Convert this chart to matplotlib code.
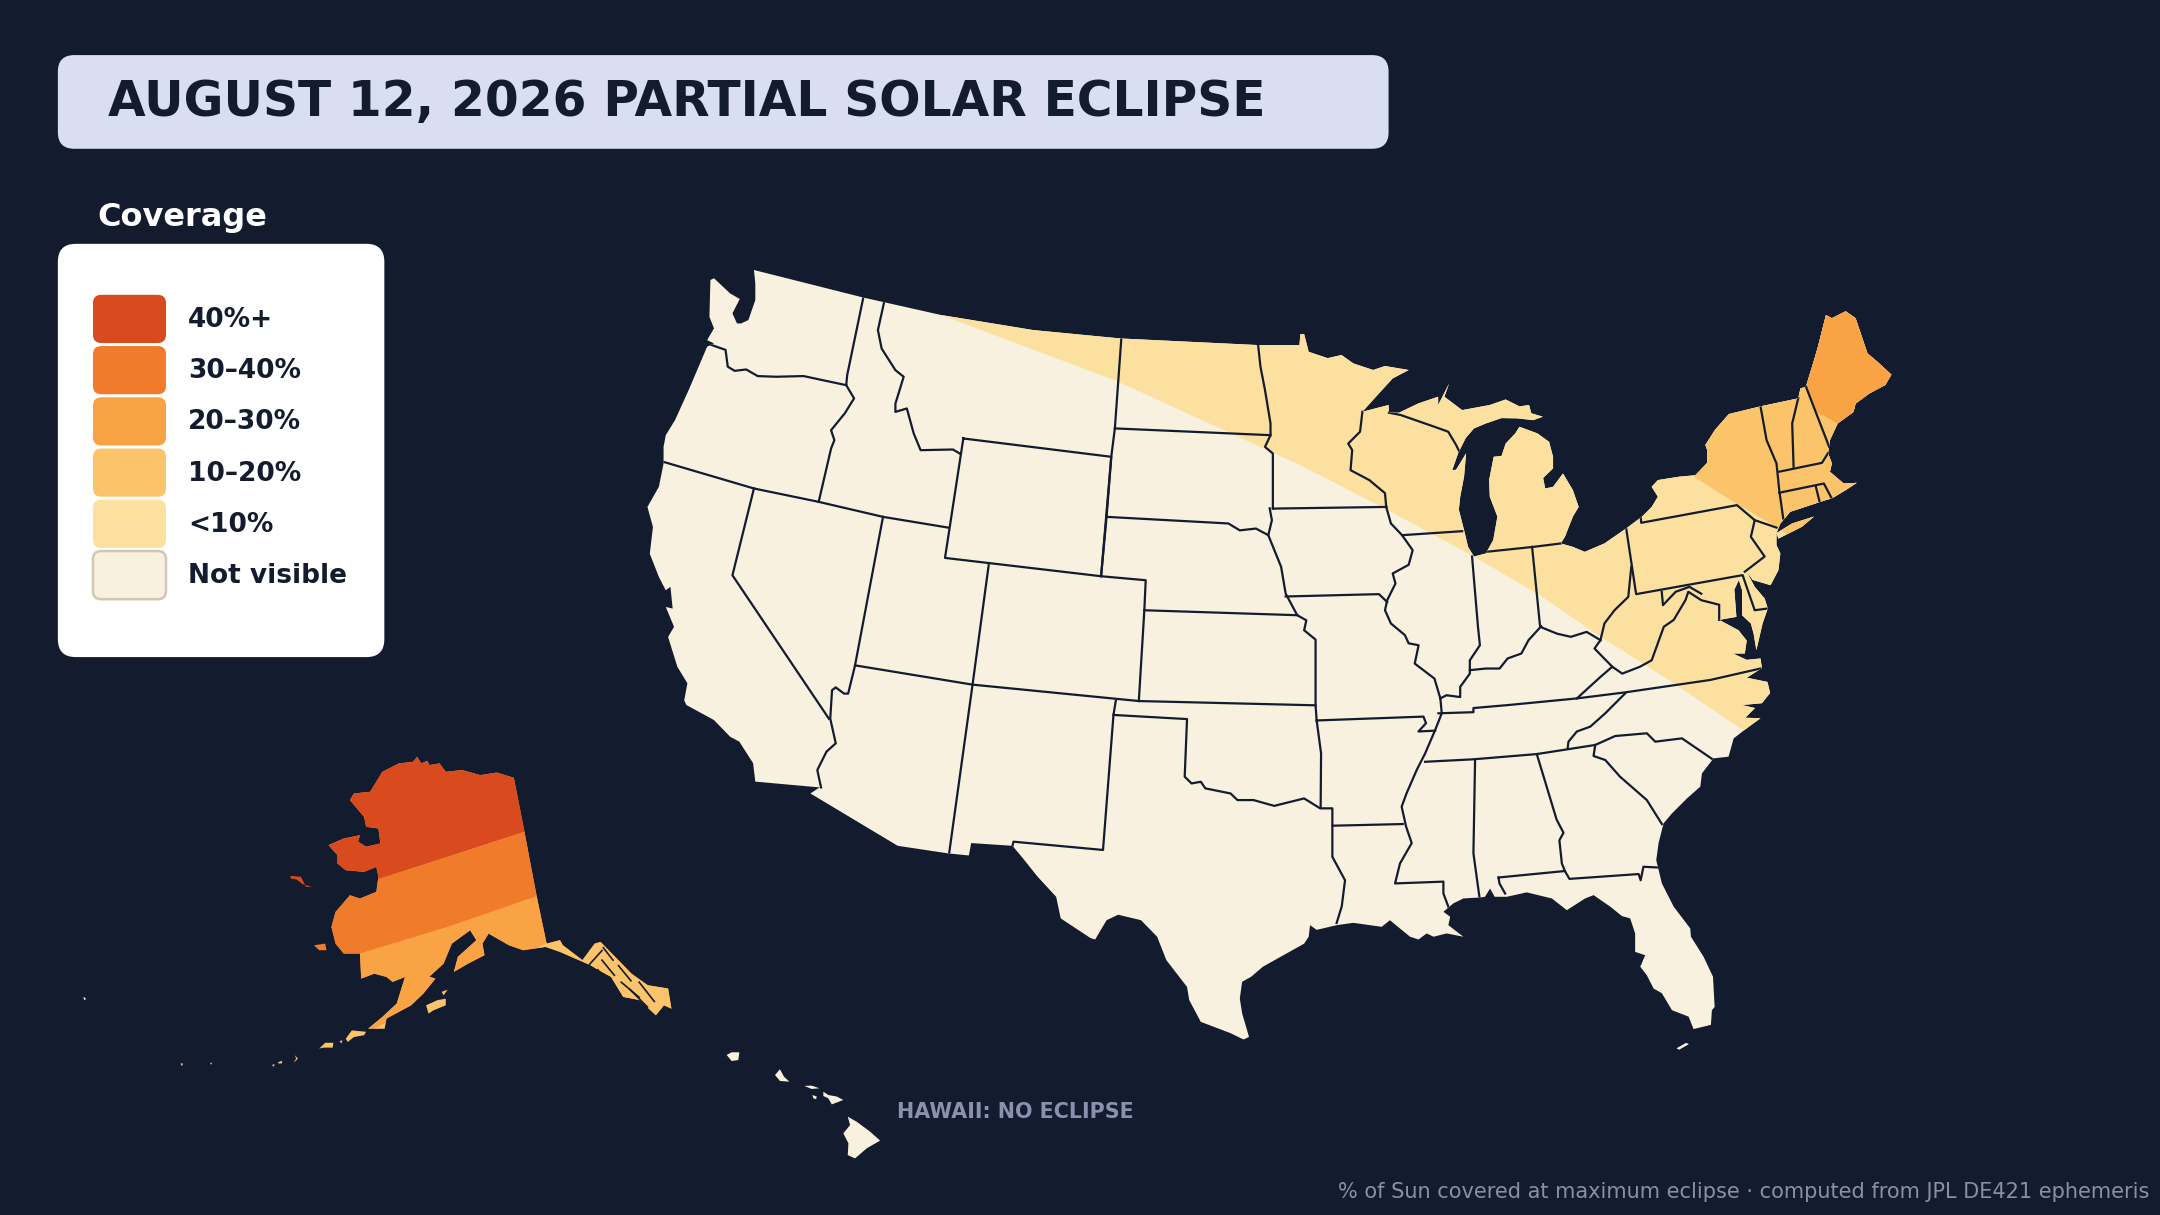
import matplotlib
matplotlib.use("Agg")
import matplotlib.pyplot as plt
from matplotlib.patches import FancyBboxPatch, Polygon, PathPatch
from matplotlib.path import Path

# colours
BG = "#131C2E"
CREAM = "#F8F1DF"
C40 = "#DA4A1F"
C30 = "#EF7B2B"
C20 = "#F9A345"
C10 = "#FBC46A"
C00 = "#FCE0A0"

LEGEND_LABELS = ["40%+", "30–40%", "20–30%", "10–20%", "<10%", "Not visible"]
LEGEND_COLORS = [C40, C30, C20, C10, C00, CREAM]

CONUS = [
    (547.3, 196), (626.7, 216), (683.3, 228.7), (750, 239.6), (813.3, 245.7), (913.3, 250.5),
    (943.3, 250.5), (944, 242.5), (946.7, 242.5), (950, 255.4), (963.8, 260), (973.8, 257.7),
    (982.4, 263.8), (996.8, 268.6), (1005.4, 265.7), (1022.6, 268.6), (1011, 274.7), (1001, 285.6),
    (989, 298.9), (1008, 294), (1008.3, 299.6), (1015.5, 299.6), (1029.8, 292.8), (1044, 288),
    (1044, 294), (1052, 278.3), (1048.5, 288), (1061.4, 297.7), (1081.5, 294), (1093, 290),
    (1103, 295), (1110, 294), (1111.6, 300), (1120, 302.5), (1113, 305), (1101.6, 303.7),
    (1090, 303.5), (1078.6, 307.4), (1070, 311), (1064, 318), (1058.5, 329), (1054.2, 341.3),
    (1057, 341), (1064.3, 329), (1062.8, 346), (1060, 360.6), (1059, 370), (1062.8, 384.8),
    (1065.7, 397), (1070, 404), (1078.6, 401.8), (1084, 392), (1087, 375), (1081.5, 360.6),
    (1081, 348.5), (1084.3, 331.6), (1090, 331), (1093, 322), (1100, 314.6), (1103, 309.8),
    (1116, 314.6), (1124.5, 320.7), (1127.4, 331.6), (1127.4, 340), (1120.2, 347), (1121.7, 354.6),
    (1127.4, 353.4), (1134.6, 343.7), (1141.8, 355.8), (1146, 368), (1141.8, 375), (1136, 389.7),
    (1133, 394.5), (1141.8, 397), (1150.4, 400.6), (1164.7, 394.5), (1180.5, 383.6), (1192, 375),
    (1199, 368), (1203.5, 360.6), (1199, 353.4), (1203.5, 348.5), (1219.2, 346), (1230.7, 345),
    (1239.3, 336), (1239.3, 326.7), (1238, 323), (1245, 312), (1255, 300.6), (1278, 295),
    (1305.4, 289.2), (1307, 282), (1311, 280.7), (1317, 261), (1319.7, 251.7), (1325.5, 228.7),
    (1329.8, 231), (1339.8, 226), (1347, 231), (1355.6, 256.5), (1362.8, 262.6), (1373, 272),
    (1368.5, 279.5), (1357, 285.6), (1347, 293), (1345.5, 299), (1334, 307.4), (1328.4, 319.5),
    (1327, 329), (1329.8, 336.4), (1328.4, 342.5), (1338.4, 351), (1347.8, 350.5), (1339.8, 355.8),
    (1329.8, 361.8), (1325.4, 363), (1299.6, 371.5), (1292.4, 380), (1289.6, 387), (1289.6, 395.7),
    (1292.4, 401.8), (1291, 413.9), (1285.3, 424.8), (1272.3, 421), (1268, 415), (1273.8, 426),
    (1281, 434.5), (1283.3, 441.7), (1279.5, 452.6), (1275, 472), (1273, 460), (1271, 452.6),
    (1264.6, 446.6), (1264.6, 428.4), (1262.3, 421), (1259, 428), (1260.5, 447.8), (1248, 450),
    (1262, 457.5), (1268, 465), (1266.6, 474.4), (1258, 474.4), (1268, 479), (1278, 478),
    (1279, 485), (1268, 492), (1283, 495), (1285, 503), (1279, 510.5), (1264.5, 511.8),
    (1274, 514), (1267, 521), (1278, 521.4), (1268, 528.7), (1258.5, 536), (1254.8, 549.3),
    (1243.9, 550.5), (1235.5, 561.4), (1234.3, 571), (1224.6, 579.6), (1213.7, 590.5), (1207.6, 597.7),
    (1204, 612), (1202.3, 624.4), (1206.4, 641.3), (1215, 658.2), (1227, 674), (1227.5, 680),
    (1236.7, 694.6), (1243.5, 709), (1244.7, 731), (1242.7, 733.3), (1242, 744), (1229.4, 747),
    (1225.8, 738), (1213.7, 733.3), (1206.4, 721), (1200.4, 717.6), (1195.5, 708), (1190.7, 701.8),
    (1194.3, 693.4), (1187, 691), (1187, 677.6), (1183.4, 666.7), (1177.4, 665), (1169, 658.2),
    (1156.8, 649.8), (1150.7, 652.2), (1137.4, 660.7), (1126.5, 652.2), (1108.3, 647.8), (1093.8, 651),
    (1085, 651), (1081.7, 645), (1078, 651), (1074.5, 651.5), (1062.3, 652.2), (1055, 655.8),
    (1047.8, 661.9), (1052.7, 665.5), (1051.4, 671.6), (1062.3, 680), (1050.2, 677.6), (1040.6, 680),
    (1035.7, 677.6), (1029.7, 682), (1023.6, 680), (1009, 668), (1003, 672.8), (982.4, 669.9),
    (970.3, 671.6), (955.8, 675), (951, 671.6), (950, 680), (946.7, 685), (916.7, 701.8),
    (908.3, 709), (901.7, 712.7), (900, 724.8), (901.7, 735.7), (906.7, 752.7), (902.7, 754.6),
    (893.3, 750), (871.7, 741.8), (863.3, 726), (861.7, 716.4), (846.7, 697), (840, 680),
    (828.3, 668), (811.7, 664), (803.3, 668), (795, 682), (791.7, 681), (770, 666.7),
    (766.7, 651), (753.3, 636.5), (741.7, 622), (735, 614), (705, 612), (703.3, 621),
    (688.3, 619.5), (651.7, 614), (588.3, 576), (595, 571.6), (548.3, 567.4), (546.7, 554),
    (536.7, 538.4), (530, 534.8), (518.3, 522.7), (498.3, 511.8), (496.7, 508.4), (499, 496),
    (491.7, 484), (485, 462.4), (489.3, 455), (483.3, 440.6), (488.3, 441.8), (486.7, 426),
    (483.3, 428.5), (478.3, 418.8), (471.7, 402), (474, 382.5), (470, 368), (478.3, 353.4),
    (481.7, 336.5), (481.7, 324.4), (483.3, 315.9), (490, 305), (500, 283), (513.3, 251.7),
    (518.3, 249.3), (513.3, 246.9), (518.3, 238.4), (515, 230), (515.7, 203.3), (518.3, 202),
    (530, 213), (537, 217), (531.7, 227.5), (535, 234.8), (538, 234.8), (543.3, 232.3),
    (548.3, 217.8), (548.3, 205.7),
]
LONG_ISLAND = [(1316.8, 375), (1308, 382.4), (1291, 391), (1289.6, 387), (1301, 380)]
KEY_WEST = [(1217, 761), (1224, 757), (1226, 758), (1219, 762)]

ALASKA = [
    (302.8, 549.4), (305.8, 554.2), (310.2, 552.3), (311.7, 555.4), (319.1, 554.2), (323.6, 560.3),
    (335.4, 559), (348.7, 562.7), (360.6, 560.8), (373, 564.6), (380.7, 603.8), (389.6, 650.6),
    (396.8, 685), (406.5, 682.5), (408.6, 686.2), (422.8, 697), (431.7, 685), (436, 683.8),
    (458.4, 706.8), (470.2, 715.2), (485, 717.6), (487.4, 732.2), (482, 729.8), (476.1, 737),
    (464.3, 726), (452.4, 723.7), (443.6, 709.2), (434.7, 704.3), (428.7, 700.7), (406.5, 691),
    (396.1, 687.4), (379.8, 689.8), (369.5, 686.2), (354.7, 677.7), (350.2, 685), (351.7, 693.4),
    (339.8, 699.5), (329.5, 705.5), (332.4, 694.6), (345.8, 682.5), (341.3, 675.3), (328, 685),
    (322, 699.5), (311.7, 709), (316.1, 710.4), (307.3, 721.3), (298.4, 729.8), (280.6, 739.4),
    (279.1, 746.7), (267.3, 746.7), (277.6, 738.2), (288, 728.5), (294, 709.2), (285, 712.8),
    (280.6, 709.2), (271.7, 706.8), (262.2, 710.4), (261.3, 692.2), (249.5, 692.2), (243.6, 685),
    (240.6, 672.9), (243.6, 662), (254, 649.9), (261.3, 652.3), (273.2, 647.4), (274.7, 636.5),
    (273.2, 629.3), (264.3, 632.9), (251, 631.7), (245, 626.9), (245, 620.8), (238.5, 613.5),
    (249.5, 608.7), (261.3, 606.3), (259.9, 611), (265.8, 614.7), (276.1, 612.3), (274.7, 601.4),
    (265.8, 600.2), (264.3, 593), (254, 580.8), (256.9, 576), (268.7, 574.8), (277.6, 560.3),
    (289.5, 554.2), (299.8, 553),
]
ST_LAWRENCE = [(211, 635.8), (218.4, 636.5), (222.2, 643.8), (226.4, 643.8), (219.8, 641.9), (215.4, 638.5), (211, 637.7)]
NUNIVAK = [(227.9, 686.2), (236.1, 685), (237, 689.8), (231.7, 689.8)]
AK_ISLANDS = [
    [(309.3, 729.8), (317.6, 726), (323.6, 725), (323.6, 729.8), (314.7, 733.4), (311.1, 735.8)],
    [(320.6, 720), (325, 718.4), (322, 722.5)],
    [(251, 754), (255.4, 748), (265.8, 749), (264.3, 751.5), (256.9, 752.8), (252.4, 756.4)],
    [(231.7, 761.2), (236.1, 757), (242, 757), (241.5, 760.5), (234.6, 760.5)],
    [(246.5, 756), (248.5, 755), (248, 757.5)],
    [(214, 766), (216.3, 768.5), (213, 771.6), (215, 768.5)],
    [(202, 771), (205, 770), (204.5, 772), (202, 772)],
    [(197.5, 773), (199.5, 772.5), (198.5, 774.5)],
    [(131, 772), (133, 772), (132, 774)],
    [(152.5, 771.5), (154, 771.5), (153.2, 773)],
]
AK_STRAY = [(60.6, 723.5), (62.6, 725.2), (61, 726)]
AK_CHANNELS = [
    [(428, 700), (437, 690)],
    [(438, 688), (445, 697)],
    [(449, 701), (458, 712)],
    [(437, 697), (446, 708)],
    [(451, 713), (464, 724)],
    [(434, 704), (441, 713)],
    [(445, 716), (452, 725)],
    [(464, 713), (475, 727)],
    [(457, 718), (470, 731)],
]

HAWAII = [
    [(527.5, 765.8), (531.1, 763.9), (536.7, 763.9), (536, 769.5), (531.1, 770.2)],
    [(562.6, 780.4), (566.2, 776.2), (569.1, 781.6), (573, 785.2), (566.2, 784.7)],
    [(583.9, 788.3), (589.2, 788.1), (594.8, 790), (589.2, 790.5)],
    [(589.7, 794.9), (592.9, 796), (592.4, 798), (590.5, 797.3)],
    [(597.7, 792.5), (601.3, 794.9), (607.4, 796), (612.2, 798.5), (603.8, 801.7), (601.3, 797.3), (597.7, 795.6)],
    [(615.4, 810.6), (621.9, 814.3), (631.6, 821.5), (638.9, 828), (629.2, 833.6), (620.7, 840.9),
     (615.4, 838.5), (615.9, 830), (612.2, 822.7), (617.1, 816.7)],
]

# state lines
BORDERS = [
    [(513.3, 249.3), (526.7, 254), (528.3, 266.2), (533.3, 269.2), (541.7, 268.2), (550, 273), (563.3, 273.5), (583.3, 273), (614.3, 279.6)],
    [(626.7, 216), (615, 272.3), (614.3, 279.6), (620, 289.2), (613.3, 300), (603.3, 312.3), (605.7, 319.5), (603.3, 325.6), (594.3, 364.3)],
    [(481.7, 335.3), (547.3, 354.6), (594.3, 364.3), (641, 375.2), (688.3, 383)],
    [(547.3, 354.6), (531.7, 417.6), (601.7, 521.7)],
    [(641, 375.2), (620.7, 483), (615.7, 503.5), (612.7, 503.5), (606.7, 499), (604, 501), (602.7, 521.7), (606.7, 539.6), (600, 545.6), (593.3, 559), (596, 571.6)],
    [(641.7, 219.8), (637.3, 239.6), (640, 253), (650, 268.7), (656, 273.5), (650, 293), (650, 299), (658.3, 296.5), (663.3, 314.7), (668.3, 326.8), (691.7, 326.3), (696.7, 329.2)],
    [(699.3, 318.3), (806.7, 331.6), (799.3, 418.3), (686, 405), (699.3, 318.3)],
    [(814, 245.7), (809.3, 311), (806.7, 331.6), (803.3, 375.2), (799.3, 418.3)],
    [(809.3, 311), (922.3, 315.9)],
    [(913.3, 250.5), (915, 266.2), (918.3, 283.2), (922.3, 307.4), (922.3, 315.9), (918.3, 324.4), (924, 329.2), (924, 369.2)],
    [(803.3, 375.2), (891.7, 380), (900, 385), (911.7, 383.7), (920.7, 388.5), (930, 411.5), (933.3, 430.9), (941.7, 446.6), (948.3, 450.3), (946.7, 457.5), (955, 464.3), (955, 512), (955.8, 523)],
    [(921.7, 369), (923.3, 377.6), (920.7, 388.5)],
    [(799.3, 418.3), (831.7, 421.2), (830.7, 443), (826.7, 508.9)],
    [(830.7, 443), (941.7, 446.6)],
    [(620.7, 483), (706, 497), (826.7, 508.9), (955, 512)],
    [(717.7, 410.3), (706, 497), (689, 619.5)],
    [(810, 508.6), (808.3, 519), (800.7, 617), (735.7, 611), (735, 614)],
    [(808.3, 519), (861.7, 522), (860, 563.8), (865, 568.7), (871.7, 567.5), (875, 572.3), (893.3, 576), (898.3, 580.8), (910, 580.8), (925, 585), (946.7, 579.6), (958.3, 586.8), (967.2, 586.8), (967.2, 622), (976.4, 639), (974, 658), (970.3, 670)],
    [(955.8, 523), (959, 546.9), (958.7, 585.6)],
    [(967.4, 599.4), (1018.3, 598.2)],
    [(955.8, 523), (1033.3, 520.2), (1035.2, 525), (1029.7, 531), (1041.8, 530.4)],
    [(1045.6, 507), (1046.6, 517.8), (1041.8, 530), (1034.5, 547), (1028.4, 559), (1021, 576), (1017.5, 585.6), (1020.7, 600), (1024.8, 612), (1016.3, 626.8), (1012.7, 641.3), (1047.8, 640), (1047.8, 648.6), (1051.4, 658.2)],
    [(1034.5, 553), (1069.6, 551.2), (1115.6, 547.4), (1158, 540.8), (1172.5, 534.3), (1195.5, 532.3), (1201.6, 538.4), (1221, 536), (1244, 551.7)],
    [(1158, 540.8), (1156.8, 548.8), (1165.3, 551.7), (1176, 563.8), (1195.5, 580.8), (1206.4, 598.2)],
    [(1138, 543), (1138.6, 538.4), (1144.7, 531), (1154.4, 527.5), (1165.3, 517.8), (1179.8, 503.3)],
    [(1044.2, 517.8), (1069.6, 517), (1069.6, 514), (1095, 511.8), (1144.7, 507), (1179.8, 502.6), (1241.5, 493.6), (1278, 485.3)],
    [(1144.7, 507), (1161.8, 491.4), (1170.4, 484), (1157.5, 470.8), (1161.8, 464.7)],
    [(1170.4, 484), (1177.6, 489), (1190.5, 484), (1199, 479.3), (1207.8, 455), (1215, 450), (1223.5, 435.7), (1225.6, 429.6), (1235, 435.7), (1248, 439), (1248, 450)],
    [(1206.3, 429.6), (1207.2, 439.3), (1216.4, 429.6), (1226.4, 426), (1235, 431)],
    [(1184.2, 411.5), (1182, 433.3), (1172, 443), (1164.7, 452.6), (1161.8, 464.7)],
    [(1180.5, 383.6), (1187.7, 431.3), (1265, 417.5), (1273.8, 443), (1283.3, 441.7)],
    [(1191, 375), (1191.4, 379.5), (1260.9, 366.7), (1273.8, 377.6), (1271, 389.7), (1281, 404), (1266.6, 415)],
    [(1273.8, 377.6), (1289.6, 383)],
    [(1278, 295), (1282.4, 319.5), (1289.6, 336.4), (1291.6, 355.8), (1294.5, 376.4)],
    [(1305.4, 289), (1301, 307.4), (1302, 338.8)],
    [(1291.6, 342.4), (1322.6, 336), (1327, 329)],
    [(1291.6, 357.7), (1324, 351), (1329.8, 362)],
    [(1318.2, 353.4), (1321.2, 365.5)],
    [(1311, 280.7), (1327.8, 324.3)],
    [(1133, 394.5), (1113, 397), (1078.6, 400.6)],
    [(1112.2, 397), (1118, 455), (1130.3, 460), (1140.3, 462.3), (1151.8, 458.7), (1161.8, 464.7)],
    [(1118.8, 454.6), (1109.6, 464.7), (1104.4, 474.4), (1094.4, 478), (1088.6, 485.3), (1078.6, 485.3), (1067, 486.5)],
    [(1068.6, 404), (1072.9, 455), (1074.3, 468.4), (1067, 479.3), (1067, 489), (1060, 498.6), (1060, 506), (1050, 504.7), (1045.6, 507)],
    [(1017.8, 388.5), (1061.4, 385.6)],
    [(1006.3, 368), (1009.7, 380), (1017.8, 388.5), (1025.5, 399.4), (1022.6, 410), (1011, 416.3), (1013, 423.6), (1007, 435.7), (1005.4, 443), (1009.7, 452.6), (1019.8, 461), (1022.6, 467), (1029.8, 468.4), (1027, 481.7), (1041.3, 492.6), (1045.6, 507)],
    [(924, 369.2), (1006.3, 368)],
    [(933.3, 433), (1001, 431.3), (1007, 437)],
    [(989, 298.9), (987.3, 313.4), (978.7, 322), (981.6, 326.7), (980.4, 341.3), (994, 348.5), (1005.4, 358), (1006.3, 368)],
    [(1008.3, 299.6), (1016.9, 301.3), (1041.3, 309.8), (1051.3, 313.4), (1057, 323), (1060, 329)],
    [(1087.8, 637), (1136, 632.3), (1139.3, 638), (1189.5, 634.5), (1191, 639), (1193, 629.2), (1202.8, 629.7)],
    [(1115.6, 547.4), (1130, 595), (1135, 604.5), (1132, 610), (1133.8, 626.8), (1136, 632.3)],
    [(1070.8, 551.2), (1069.6, 619.5), (1074, 651.5)],
    [(1087.8, 637), (1088.5, 641.3), (1092.6, 648.6)],
]

# coverage bands
BAND_00 = [(683.3, 228.7), (809.3, 276), (943.7, 337.6), (1006.8, 370), (1070, 404), (1116, 431), (1162, 462.3), (1213.5, 495), (1263.7, 529), (1400, 560), (1400, 200), (683.3, 200)]
BAND_10 = [(1228, 345), (1262.3, 366.7), (1289.6, 382.5), (1330, 410), (1400, 420), (1400, 200), (1228, 200)]
BAND_20 = [(1311, 280.7), (1317, 298), (1334, 307.4), (1400, 340), (1400, 200), (1311, 200)]
AK_BAND_40 = [(230, 540), (390, 540), (380.7, 603.8), (325, 622), (274.7, 638.2), (230, 650)]
AK_BAND_30 = [(230, 650), (274.7, 638.2), (325, 622), (380.7, 603.8), (395, 603), (389.6, 650.6), (325, 672.9), (261.3, 692.2), (230, 700)]
AK_BAND_20 = [(230, 700), (261.3, 692.2), (325, 672.9), (389.6, 650.6), (400, 650), (396.1, 685), (325, 721), (268.7, 748), (230, 760)]
AK_BAND_10 = [(230, 760), (268.7, 748), (325, 721), (396.1, 685), (400, 650), (500, 650), (500, 780), (230, 780)]


fig = plt.figure(figsize=(21.6, 12.15), dpi=100, facecolor=BG)
ax = fig.add_axes([0, 0, 1, 1])
ax.set_xlim(0, 1568)
ax.set_ylim(882, 0)
ax.axis("off")


def compound(shapes):
    paths = [Path(list(s) + [s[0]], closed=True) for s in shapes]
    return Path.make_compound_path(*paths)


# lower 48
land = PathPatch(compound([CONUS, LONG_ISLAND, KEY_WEST]), fc=CREAM, ec="none", zorder=2)
ax.add_patch(land)
for band, col in [(BAND_00, C00), (BAND_10, C10), (BAND_20, C20)]:
    p = Polygon(band, closed=True, fc=col, ec="none", zorder=3)
    ax.add_patch(p)
    p.set_clip_path(land)
for line in BORDERS:
    xs, ys = zip(*line)
    ln, = ax.plot(xs, ys, color=BG, lw=1.6, zorder=4, solid_joinstyle="round")
    ln.set_clip_path(land)

# alaska
ak = PathPatch(compound([ALASKA]), fc=C20, ec="none", zorder=2)
ax.add_patch(ak)
for band, col in [(AK_BAND_40, C40), (AK_BAND_30, C30), (AK_BAND_20, C20), (AK_BAND_10, C10)]:
    p = Polygon(band, closed=True, fc=col, ec="none", zorder=3)
    ax.add_patch(p)
    p.set_clip_path(ak)
for line in AK_CHANNELS:
    xs, ys = zip(*line)
    ax.plot(xs, ys, color=BG, lw=1.2, zorder=4)
ax.add_patch(Polygon(ST_LAWRENCE, fc=C40, ec="none", zorder=3))
ax.add_patch(Polygon(NUNIVAK, fc=C30, ec="none", zorder=3))
for isl in AK_ISLANDS:
    ax.add_patch(Polygon(isl, fc=C10, ec="none", zorder=3))
ax.add_patch(Polygon(AK_STRAY, fc=CREAM, ec="none", zorder=3))

# hawaii
for isl in HAWAII:
    ax.add_patch(Polygon(isl, fc=CREAM, ec="none", zorder=3))


def rbox(x, y, w, h, r, **kw):
    box = FancyBboxPatch((x + r, y + r), w - 2 * r, h - 2 * r,
                         boxstyle=f"round,pad={r},rounding_size={r}", **kw)
    ax.add_patch(box)


# title
rbox(42, 40, 966, 68, 12, fc="#D9DEF4", ec="none", zorder=5)
ax.text(78.5, 74, "AUGUST 12, 2026 PARTIAL SOLAR ECLIPSE", fontsize=35.05, fontweight="bold",
        color=BG, va="center", ha="left", zorder=6)

# legend
ax.text(71, 158, "Coverage", fontsize=23, fontweight="bold", color="white", va="center", zorder=6)
rbox(42, 177, 237, 300, 13, fc="white", ec="none", zorder=5)
for i, (lab, col) in enumerate(zip(LEGEND_LABELS, LEGEND_COLORS)):
    y = 214 + 37.2 * i
    ec = "#D0C8B0" if lab == "Not visible" else "none"
    rbox(67.5, y, 53, 35, 6, fc=col, ec=ec, lw=1.8, zorder=6)
    ax.text(136.7, y + 18.3, lab, fontsize=19, fontweight="bold", color=BG, va="center", zorder=7)

ax.text(737, 807, "HAWAII: NO ECLIPSE", fontsize=14.9, fontweight="bold", color="#8A90AE",
        va="center", ha="center", zorder=6)
ax.text(1560, 865, "% of Sun covered at maximum eclipse · computed from JPL DE421 ephemeris",
        fontsize=15, color="#8A90A3", va="center", ha="right", zorder=6)

fig.savefig("out.png", dpi=100, facecolor=BG)
